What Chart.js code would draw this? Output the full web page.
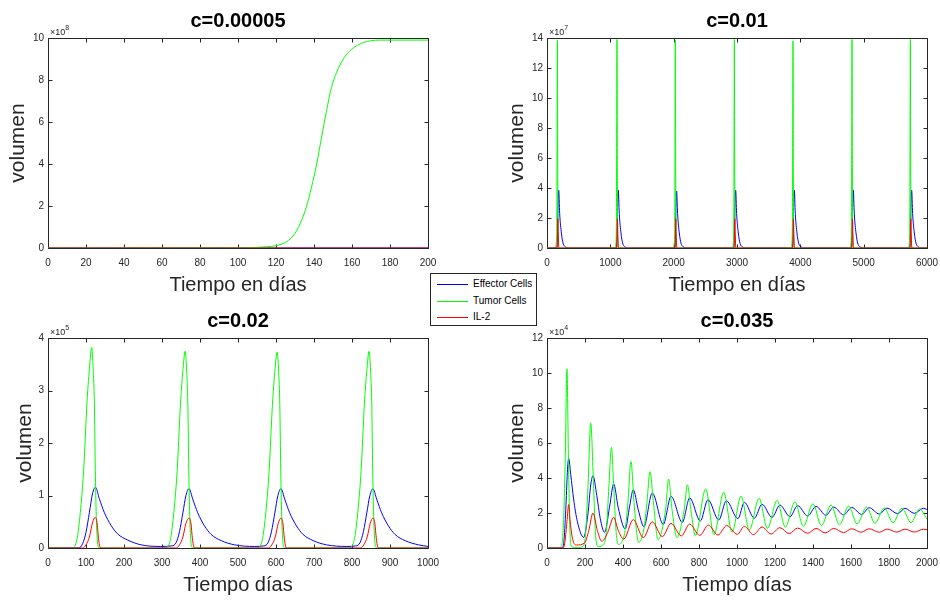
<!DOCTYPE html>
<html lang="es">
<head>
<meta charset="utf-8">
<title>Efecto de c en el modelo</title>
<script src="https://cdn.jsdelivr.net/npm/chart.js@4.4.1/dist/chart.umd.min.js"></script>
<style>
  html, body { margin: 0; padding: 0; background: #fff; }
  body { width: 940px; height: 600px; position: relative; overflow: hidden;
         font-family: "Liberation Sans", Arial, Helvetica, sans-serif; }
  canvas { position: absolute; }
  #legend { position: absolute; left: 430px; top: 273px; width: 105px; height: 51px;
            border: 1px solid #262626; background: #fff; z-index: 5; }
  #legend .swatch { position: absolute; left: 6px; width: 31px; height: 1px; }
  #legend .label { position: absolute; left: 42px; height: 12px; font-size: 10px; line-height: 12px; color: #000; white-space: nowrap; }
</style>
</head>
<body>
<canvas id="c1" width="440" height="300" style="left:0;top:0"></canvas>
<canvas id="c2" width="440" height="300" style="left:499px;top:0"></canvas>
<canvas id="c3" width="440" height="300" style="left:0;top:300px"></canvas>
<canvas id="c4" width="440" height="300" style="left:499px;top:300px"></canvas>
<div id="legend"></div>
<script>
// Series names / colours (MATLAB default b, g, r)
const seriesNames = ['Effector Cells', 'Tumor Cells', 'IL-2'];
const seriesColors = ['#0000ff', '#00ff00', '#ff0000'];

// ---- c = 0.00005  (days, volume x10^8)
const c00005Effector = [[0,0],[100,0],[200,0]];
const c00005Tumor = [[0,0],[100,0.005],[110,0.03],[115,0.06],[120,0.11],[125.6,0.3],[130,0.7],[133.5,1.33],[136,1.96],
  [138.7,2.9],[141.4,4.0],[144,5.28],[146.6,6.54],[149.2,7.65],[151.9,8.36],[155.4,9.0],[159.8,9.46],[165.9,9.78],
  [174.6,9.9],[200,9.9]];
const c00005IL2 = [[0,0],[100,0],[200,0]];

// ---- c = 0.01  (days, volume x10^7)
const c01Effector = [[0,0],
  [156,0],[164,0.6],[174,2.8],[185,3.85],[200,2.3],[227,1.0],[253,0.33],[295,0.07],[364,0],
  [1097,0],[1105,0.6],[1115,2.8],[1126,3.85],[1141,2.3],[1168,1.0],[1194,0.33],[1236,0.07],[1305,0],
  [2018,0],[2026,0.6],[2036,2.8],[2047,3.8],[2062,2.3],[2089,1.0],[2115,0.33],[2157,0.07],[2226,0],
  [2950,0],[2958,0.6],[2968,2.8],[2979,3.85],[2994,2.3],[3021,1.0],[3047,0.33],[3089,0.07],[3158,0],
  [3876,0],[3884,0.6],[3894,2.8],[3905,3.85],[3920,2.3],[3947,1.0],[3973,0.33],[4015,0.07],[4084,0],
  [4808,0],[4816,0.6],[4826,2.8],[4837,3.85],[4852,2.3],[4879,1.0],[4905,0.33],[4947,0.07],[5016,0],
  [5729,0],[5737,0.6],[5747,2.8],[5758,3.85],[5773,2.3],[5800,1.0],[5826,0.33],[5868,0.07],[5937,0],[6000,0]];
const c01Tumor = [[0,0],
  [130,0],[146,0.3],[155,2],[160,8],[164,13.85],[169,6],[174,0.5],[180,0],
  [1071,0],[1087,0.3],[1096,2],[1101,8],[1105,13.9],[1110,6],[1115,0.5],[1121,0],
  [1992,0],[2008,0.3],[2017,2],[2022,8],[2026,13.85],[2031,6],[2036,0.5],[2042,0],
  [2924,0],[2940,0.3],[2949,2],[2954,8],[2958,13.9],[2963,6],[2968,0.5],[2974,0],
  [3850,0],[3866,0.3],[3875,2],[3880,8],[3884,13.8],[3889,6],[3894,0.5],[3900,0],
  [4782,0],[4798,0.3],[4807,2],[4812,8],[4816,13.9],[4821,6],[4826,0.5],[4832,0],
  [5703,0],[5719,0.3],[5728,2],[5733,8],[5737,13.9],[5742,6],[5747,0.5],[5753,0],[6000,0]];
const c01IL2 = [[0,0],
  [157,0],[164,0.5],[171,1.95],[179,0.8],[188,0],
  [1098,0],[1105,0.5],[1112,1.95],[1120,0.8],[1129,0],
  [2019,0],[2026,0.5],[2033,1.95],[2041,0.8],[2050,0],
  [2951,0],[2958,0.5],[2965,1.95],[2973,0.8],[2982,0],
  [3877,0],[3884,0.5],[3891,1.95],[3899,0.8],[3908,0],
  [4809,0],[4816,0.5],[4823,1.95],[4831,0.8],[4840,0],
  [5730,0],[5737,0.5],[5744,1.95],[5752,0.8],[5761,0],[6000,0]];

// ---- c = 0.02  (days, volume x10^5)
const c02Effector = [[0,0],[80,0],[91,0.08],[100,0.3],[109,0.68],[117,1.03],[125,1.16],[135,0.94],[148,0.68],
  [166,0.43],[183,0.27],[210,0.15],[245,0.06],[297,0.03],
  [326,0.04],[337,0.1],[346,0.31],[355,0.67],[363,1.0],[371,1.13],[381,0.93],[394,0.67],[412,0.42],[429,0.26],
  [456,0.14],[491,0.06],[543,0.03],
  [568,0.04],[579,0.1],[588,0.31],[597,0.67],[605,1.0],[613,1.13],[623,0.93],[636,0.67],[654,0.42],[671,0.26],
  [698,0.14],[733,0.06],[785,0.03],
  [810,0.04],[821,0.1],[830,0.31],[839,0.67],[847,1.0],[855,1.13],[865,0.93],[878,0.67],[896,0.42],[913,0.26],
  [940,0.14],[975,0.06],[1000,0.03]];
const c02Tumor = [[0,0],[60,0],[70,0.03],[78,0.24],[86,0.75],[94,1.5],[102.6,2.77],[108.8,3.4],[115,3.82],[119,3.4],
  [122,2.77],[124.5,1.5],[127,0.6],[129,0.24],[132,0.02],[136,0],
  [306,0],[316,0.03],[324,0.24],[332,0.74],[340,1.48],[348.6,2.74],[354.8,3.36],[361,3.75],[365,3.36],[368,2.74],
  [370.5,1.48],[373,0.6],[375,0.24],[378,0.02],[382,0],
  [548,0],[558,0.03],[566,0.24],[574,0.74],[582,1.48],[590.6,2.73],[596.8,3.35],[603,3.73],[607,3.35],[610,2.73],
  [612.5,1.48],[615,0.6],[617,0.24],[620,0.02],[624,0],
  [790,0],[800,0.03],[808,0.24],[816,0.74],[824,1.48],[832.6,2.74],[838.8,3.36],[845,3.75],[849,3.36],[852,2.74],
  [854.5,1.48],[857,0.6],[859,0.24],[862,0.02],[866,0],[1000,0]];
const c02IL2 = [[0,0],[91,0],[100,0.06],[109,0.21],[117,0.48],[124,0.58],[129,0.49],[133,0.18],[138,0],
  [337,0],[346,0.06],[355,0.21],[363,0.47],[371,0.57],[376,0.48],[380,0.18],[385,0],
  [580,0],[589,0.06],[598,0.21],[606,0.47],[613,0.57],[618,0.48],[622,0.18],[627,0],
  [822,0],[831,0.06],[840,0.21],[848,0.47],[855,0.57],[860,0.48],[864,0.18],[869,0],[1000,0]];

// ---- c = 0.035  (days, volume x10^4)
const c035Effector = [[0,0],[80,0],[90,0.5],[100,2.5],[108,4.5],[114,5.12],[125,4.2],[140,2.8],[160,1.5],[193,0.61],
  [216,2.0],[230,3.6],[242,4.13],[262,3.0],[280,1.7],[303,0.9],[330,2.4],[351,3.66],[375,2.3],[412,1.09],
  [435,2.4],[454,3.33],[480,2.2],[510,1.22],[554,3.14],[612,1.35],[653,2.95],[712,1.47],[751,2.86],[807,1.54],
  [847,2.76],[904,1.6],[944,2.7],[1005,1.68],[1039,2.61],[1091,1.7],[1132,2.5],[1184,1.75],[1226,2.45],[1279,1.79],
  [1319,2.42],[1372,1.83],[1416,2.38],[1468,1.87],[1509,2.34],[1561,1.89],[1604,2.32],[1656,1.92],[1696,2.3],
  [1749,1.94],[1789,2.28],[1846,1.96],[1884,2.27],[1933,1.98],[1981,2.27],[2000,2.2]];
const c035Tumor = [[0,0],[60,0],[72,0.05],[85,1.0],[95,4.5],[105,10.23],[113,5.0],[120,1.2],[128,0.1],[160,0.02],
  [190,0.1],[202,0.7],[216,3.56],[230,7.14],[245,3.56],[256,0.7],[270,0.08],[300,0.25],[312,0.9],[326,3.56],
  [339,5.75],[351,3.56],[364,0.9],[377,0.19],[400,0.5],[411,1.0],[426,2.6],[442,4.93],[458,2.6],[472,0.9],
  [482,0.32],[510,1.1],[526,2.6],[542,4.36],[560,2.6],[584,0.48],[624,2.2],[640,3.94],[658,2.2],[684,0.59],
  [722,2.2],[739,3.62],[757,2.2],[781,0.7],[835,3.37],[879,0.76],[930,3.18],[974,0.9],[1021,2.97],[1065,1.03],
  [1116,2.84],[1160,1.12],[1211,2.72],[1254,1.2],[1305,2.63],[1349,1.24],[1400,2.53],[1444,1.28],[1495,2.46],
  [1539,1.33],[1588,2.4],[1632,1.37],[1682,2.34],[1726,1.41],[1775,2.29],[1821,1.45],[1868,2.27],[1916,1.45],
  [1961,2.23],[2000,1.66]];
const c035IL2 = [[0,0],[85,0],[95,0.4],[105,1.5],[114,2.48],[122,1.5],[135,0.5],[154,0.17],[198,0.29],[220,1.0],
  [242,2.0],[265,1.0],[289,0.38],[320,0.9],[351,1.75],[375,1.0],[404,0.51],[454,1.62],[507,0.59],[554,1.5],
  [607,0.65],[653,1.41],[707,0.69],[751,1.37],[804,0.72],[849,1.31],[900,0.74],[946,1.28],[1002,0.78],[1039,1.24],
  [1086,0.76],[1132,1.2],[1179,0.8],[1226,1.16],[1275,0.82],[1319,1.14],[1372,0.84],[1416,1.12],[1465,0.86],
  [1509,1.12],[1561,0.88],[1604,1.1],[1653,0.9],[1696,1.1],[1749,0.9],[1789,1.08],[1842,0.91],[1884,1.08],
  [1933,0.91],[1981,1.07],[2000,1.05]];

const FONT = '"Liberation Sans", Arial, Helvetica, sans-serif';
const AXIS_COLOR = '#262626';
Chart.defaults.font.family = FONT;
Chart.defaults.color = AXIS_COLOR;

// caja y ticks hacia dentro (debajo de las curvas), titulo y exponente estilo MATLAB
const matlabAxes = {
  id: 'matlabAxes',
  beforeDatasetsDraw(chart) {
    const {ctx, chartArea: a, scales: {x, y}} = chart;
    const L = Math.round(a.left) + 0.5, R = Math.round(a.right) + 0.5;
    const T = Math.round(a.top) + 0.5, B = Math.round(a.bottom) + 0.5;
    ctx.save();
    ctx.strokeStyle = AXIS_COLOR;
    ctx.lineWidth = 1;
    ctx.beginPath();
    ctx.rect(L, T, R - L, B - T);
    x.ticks.forEach(t => {
      const px = Math.round(x.getPixelForValue(t.value)) + 0.5;
      ctx.moveTo(px, B); ctx.lineTo(px, B - 4);
      ctx.moveTo(px, T); ctx.lineTo(px, T + 4);
    });
    y.ticks.forEach(t => {
      const py = Math.round(y.getPixelForValue(t.value)) + 0.5;
      ctx.moveTo(L, py); ctx.lineTo(L + 4, py);
      ctx.moveTo(R, py); ctx.lineTo(R - 4, py);
    });
    ctx.stroke();
    ctx.restore();
  },
  afterDatasetsDraw(chart, args, opts) {
    const {ctx, chartArea: a} = chart;
    ctx.save();
    ctx.fillStyle = '#000';
    ctx.font = 'bold 20px ' + FONT;
    ctx.textAlign = 'center';
    ctx.textBaseline = 'alphabetic';
    ctx.fillText(opts.title, (a.left + a.right) / 2, a.top - 11.5);

    ctx.fillStyle = AXIS_COLOR;
    ctx.textAlign = 'left';
    ctx.font = '9px ' + FONT;
    ctx.fillText('\u00d710', a.left + 2, a.top - 3);
    const w = ctx.measureText('\u00d710').width;
    ctx.font = '7px ' + FONT;
    ctx.fillText(opts.exp, a.left + 2 + w, a.top - 8);
    ctx.restore();
  }
};

function makeChart(id, p) {
  const datasets = p.series.map((s, i) => ({
    label: seriesNames[i],
    data: s.map(d => ({x: d[0], y: d[1]})),
    borderColor: seriesColors[i],
    borderWidth: 1,
    pointRadius: 0,
    cubicInterpolationMode: 'monotone',
    fill: false,
    order: 2 - i
  }));
  return new Chart(document.getElementById(id), {
    type: 'line',
    data: {datasets},
    options: {
      responsive: false,
      animation: false,
      events: [],
      layout: {padding: {top: 38, right: 12, bottom: 0, left: 0}},
      plugins: {
        legend: {display: false},
        tooltip: {enabled: false},
        matlabAxes: {title: p.title, exp: p.exp}
      },
      scales: {
        x: {
          type: 'linear', min: 0, max: p.xMax,
          grid: {display: false, drawTicks: false},
          border: {display: false},
          ticks: {stepSize: p.xStep, autoSkip: false, maxRotation: 0, padding: 9,
                  font: {size: 10}, color: AXIS_COLOR, callback: v => String(v)},
          title: {display: true, text: p.xTitle, font: {size: 20}, color: AXIS_COLOR,
                  padding: {top: 0, bottom: 2.6}},
          afterFit(s) { s.height = 52; s.paddingLeft = 0; s.paddingRight = 0; }
        },
        y: {
          type: 'linear', min: 0, max: p.yMax,
          grid: {display: false, drawTicks: false},
          border: {display: false},
          ticks: {stepSize: p.yStep, autoSkip: false, padding: 4,
                  font: {size: 10}, color: AXIS_COLOR, callback: v => String(v)},
          title: {display: true, text: 'volumen', font: {size: 21}, color: AXIS_COLOR,
                  padding: {top: p.yPad, bottom: 0}},
          afterFit(s) { s.width = 48; s.paddingTop = 0; s.paddingBottom = 0; }
        }
      }
    },
    plugins: [matlabAxes]
  });
}

makeChart('c1', {title: 'c=0.00005', exp: '8', xMax: 200, xStep: 20, yMax: 10, yStep: 2, yPad: 5.8,
  xTitle: 'Tiempo en días', series: [c00005Effector, c00005Tumor, c00005IL2]});
makeChart('c2', {title: 'c=0.01', exp: '7', xMax: 6000, xStep: 1000, yMax: 14, yStep: 2, yPad: 5.4,
  xTitle: 'Tiempo en días', series: [c01Effector, c01Tumor, c01IL2]});
makeChart('c3', {title: 'c=0.02', exp: '5', xMax: 1000, xStep: 100, yMax: 4, yStep: 1, yPad: 12.4,
  xTitle: 'Tiempo días', series: [c02Effector, c02Tumor, c02IL2]});
makeChart('c4', {title: 'c=0.035', exp: '4', xMax: 2000, xStep: 200, yMax: 12, yStep: 2, yPad: 5.4,
  xTitle: 'Tiempo días', series: [c035Effector, c035Tumor, c035IL2]});

// leyenda compartida
const legendEl = document.getElementById('legend');
seriesNames.forEach((name, i) => {
  const rowY = 10 + i * 16.5;
  const sw = document.createElement('div');
  sw.className = 'swatch';
  sw.style.top = Math.round(rowY) + 'px';
  sw.style.background = seriesColors[i];
  legendEl.appendChild(sw);
  const lab = document.createElement('div');
  lab.className = 'label';
  lab.style.top = Math.round(rowY - 6) + 'px';
  lab.textContent = name;
  legendEl.appendChild(lab);
});
</script>
</body>
</html>
